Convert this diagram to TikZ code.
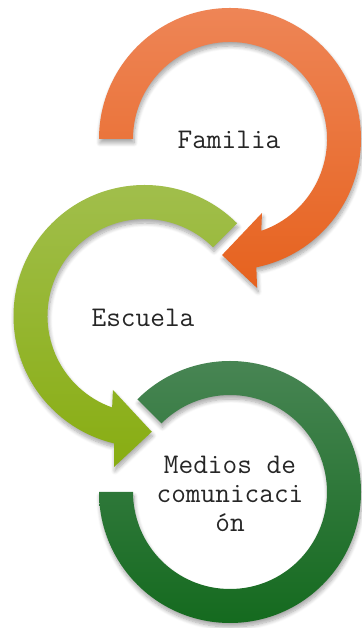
\documentclass[tikz,border=0pt]{standalone}
\usepackage{fontspec}
\usetikzlibrary{shadows.blur}

\definecolor{famtop}{HTML}{EE8556}
\definecolor{fambot}{HTML}{E6621E}
\definecolor{esctop}{HTML}{A2BF4E}
\definecolor{escbot}{HTML}{88AD12}
\definecolor{medtop}{HTML}{4A8656}
\definecolor{medbot}{HTML}{12691C}

\tikzset{
    ringshadow/.style={blur shadow={shadow xshift=1pt, shadow yshift=-4pt,
        shadow blur radius=4pt, shadow opacity=35, shadow blur steps=8}},
    label/.style={font=\ttfamily\fontsize{28.5}{29}\selectfont, text=black!85, align=center, inner sep=0pt}
}

\begin{document}
\begin{tikzpicture}[x=1pt, y=1pt]
    \useasboundingbox (0,0) rectangle (361,628);
    \begin{scope}[shift={(230,489)}]
        \path[ringshadow, top color=famtop, bottom color=fambot]
            (180:131) arc[start angle=180, end angle=-78.4, radius=131]
            -- (-79.7:151.4) -- (-93.9:116.3) -- (-66.6:80.6)
            -- (-71.2:97) arc[start angle=-71.2, end angle=180, radius=97] -- cycle;
    \end{scope}
    \begin{scope}[shift={(144.5,312)}]
        \path[ringshadow, top color=esctop, bottom color=escbot]
            (45:131) arc[start angle=45, end angle=256.6, radius=131]
            -- (258.6:154) -- (273.6:116) -- (246.9:80.4)
            -- (250.5:97) arc[start angle=250.5, end angle=45, radius=97] -- cycle;
    \end{scope}
    \begin{scope}[shift={(230,136)}]
        \path[ringshadow, top color=medtop, bottom color=medbot]
            (135:131) arc[start angle=135, end angle=-180, radius=131]
            -- (-180:97) arc[start angle=-180, end angle=135, radius=97] -- cycle;
    \end{scope}
    \node[label] (familia) at (229,488) {Familia};
    \node[label] (escuela) at (143,310) {Escuela};
    \node[label] (medios) at (230,134) {Medios de\\comunicaci\\ón};
\end{tikzpicture}
\end{document}
